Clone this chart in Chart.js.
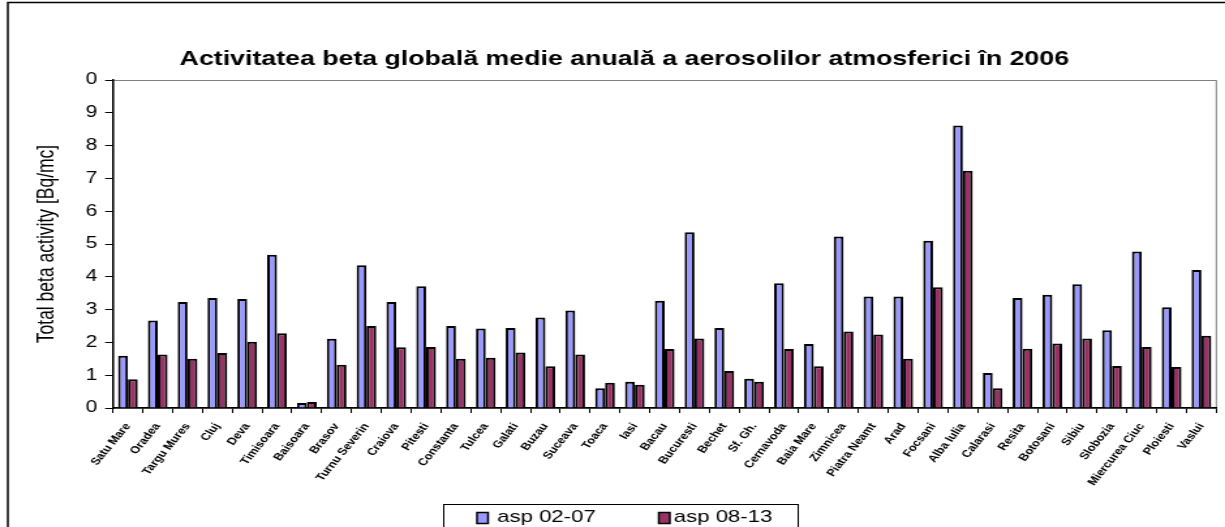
<!DOCTYPE html>
<html>
<head>
<meta charset="utf-8">
<script src="https://cdn.jsdelivr.net/npm/chart.js@4.4.1/dist/chart.umd.min.js"></script>
<style>
html, body { margin: 0; padding: 0; background: #fff; }
/* the original picture is stretched sideways, so the canvas is drawn narrower and widened */
#betaChart { width: 1225px; height: 527px; }
</style>
</head>
<body>
<canvas id="betaChart" width="940" height="527" style="width:1225px;height:527px"></canvas>
<script>
// Stations (x categories)
const stations = ['Satu Mare', 'Oradea', 'Targu Mures', 'Cluj', 'Deva', 'Timisoara', 'Baisoara', 'Brasov',
    'Turnu Severin', 'Craiova', 'Pitesti', 'Constanta', 'Tulcea', 'Galati', 'Buzau', 'Suceava', 'Toaca', 'Iasi',
    'Bacau', 'Bucuresti', 'Bechet', 'Sf. Gh.', 'Cernavoda', 'Baia Mare', 'Zimnicea', 'Piatra Neamt', 'Arad',
    'Focsani', 'Alba Iulia', 'Calarasi', 'Resita', 'Botosani', 'Sibiu', 'Slobozia', 'Miercurea Ciuc',
    'Ploiesti', 'Vaslui'];

// Total beta activity [Bq/mc]
const asp0207 = [1.59, 2.67, 3.23, 3.35, 3.32, 4.67, 0.15, 2.11, 4.35, 3.23, 3.71, 2.50, 2.42, 2.44, 2.76, 2.97,
    0.60, 0.80, 3.27, 5.36, 2.44, 0.89, 3.80, 1.95, 5.23, 3.40, 3.40, 5.10, 8.61, 1.07, 3.35, 3.45, 3.77,
    2.37, 4.77, 3.07, 4.21];
const asp0813 = [0.88, 1.63, 1.50, 1.68, 2.02, 2.28, 0.18, 1.32, 2.50, 1.85, 1.86, 1.50, 1.53, 1.69, 1.27, 1.63,
    0.77, 0.71, 1.80, 2.12, 1.13, 0.80, 1.80, 1.27, 2.33, 2.24, 1.50, 3.68, 7.23, 0.60, 1.81, 1.97, 2.12,
    1.28, 1.86, 1.25, 2.20];

// y tick labels as printed (top one shows a clipped "10")
const yTickLabels = ['0', '1', '2', '3', '4', '5', '6', '7', '8', '9', '0'];

const FONT = '"Liberation Sans", Arial, sans-serif';

// white background, outer frame, plot area frame
const framePlugin = {
    id: 'frame',
    beforeDraw(chart) {
        const c = chart.ctx;
        const a = chart.chartArea;
        c.save();
        c.fillStyle = '#fff';
        c.fillRect(0, 0, chart.width, chart.height);
        c.strokeStyle = '#000';
        c.lineWidth = 1.5;
        c.strokeRect(6, 2.5, chart.width + 20, chart.height + 20);
        c.strokeStyle = '#808080';
        c.lineWidth = 1;
        c.strokeRect(a.left, a.top + 0.5, a.right - a.left, a.bottom - a.top);
        c.restore();
    }
};

// legend box like the original one (cut at the bottom)
const legendPlugin = {
    id: 'boxLegend',
    afterDraw(chart) {
        const c = chart.ctx;
        const ds = chart.data.datasets;
        const marks = [[366, 381.5], [505.5, 517]];
        c.save();
        c.strokeStyle = '#000';
        c.lineWidth = 1;
        c.strokeRect(340.5, 504.5, 272, 40);
        c.font = '17px ' + FONT;
        c.textBaseline = 'alphabetic';
        ds.forEach((d, i) => {
            c.fillStyle = d.backgroundColor;
            c.fillRect(marks[i][0], 512, 8.5, 11);
            c.lineWidth = 1.5;
            c.strokeRect(marks[i][0], 512.5, 8.5, 11);
            c.fillStyle = '#000';
            c.fillText(d.label, marks[i][1], 522);
        });
        c.restore();
    }
};

const ctx = document.getElementById('betaChart').getContext('2d');
const betaChart = new Chart(ctx, {
    type: 'bar',
    data: {
        labels: stations,
        datasets: [{
            label: 'asp 02-07',
            data: asp0207,
            backgroundColor: '#9999ff',
            borderColor: '#000',
            borderWidth: 2,
            borderSkipped: 'bottom'
        }, {
            label: 'asp 08-13',
            data: asp0813,
            backgroundColor: '#993366',
            borderColor: '#000',
            borderWidth: 2,
            borderSkipped: 'bottom'
        }]
    },
    options: {
        responsive: false,
        animation: false,
        devicePixelRatio: 1,
        layout: { padding: { left: 22, right: 3.8, top: 0, bottom: 30 } },
        datasets: { bar: { categoryPercentage: 0.66, barPercentage: 1.0 } },
        plugins: {
            legend: { display: false },
            tooltip: { enabled: false },
            title: {
                display: true,
                text: 'Activitatea beta globală medie anuală a aerosolilor atmosferici în 2006',
                color: '#000',
                font: { family: FONT, size: 20.5, weight: 'bold' },
                padding: { top: 47, bottom: 8.4 }
            }
        },
        scales: {
            x: {
                grid: { display: true, drawOnChartArea: false, offset: true, tickLength: 5, color: '#000' },
                border: { color: '#000', width: 1.5 },
                ticks: {
                    autoSkip: false,
                    maxRotation: 57,
                    minRotation: 57,
                    padding: 8,
                    color: '#000',
                    font: { family: FONT, size: 10, weight: 'bold' }
                },
                afterFit(scale) { scale.height = 89; }
            },
            y: {
                min: 0,
                max: 10,
                grid: { display: true, drawOnChartArea: false, tickLength: 6, color: '#000' },
                border: { color: '#000', width: 1.5 },
                ticks: {
                    stepSize: 1,
                    padding: 6,
                    color: '#000',
                    font: { family: FONT, size: 16 },
                    callback: (v, i) => yTickLabels[i]
                },
                title: {
                    display: true,
                    text: 'Total beta activity [Bq/mc]',
                    color: '#000',
                    font: { family: FONT, size: 17.5 },
                    padding: { top: 4, bottom: 0 }
                },
                afterFit(scale) { scale.width = 64.7; }
            }
        }
    },
    plugins: [framePlugin, legendPlugin]
});
</script>
</body>
</html>
